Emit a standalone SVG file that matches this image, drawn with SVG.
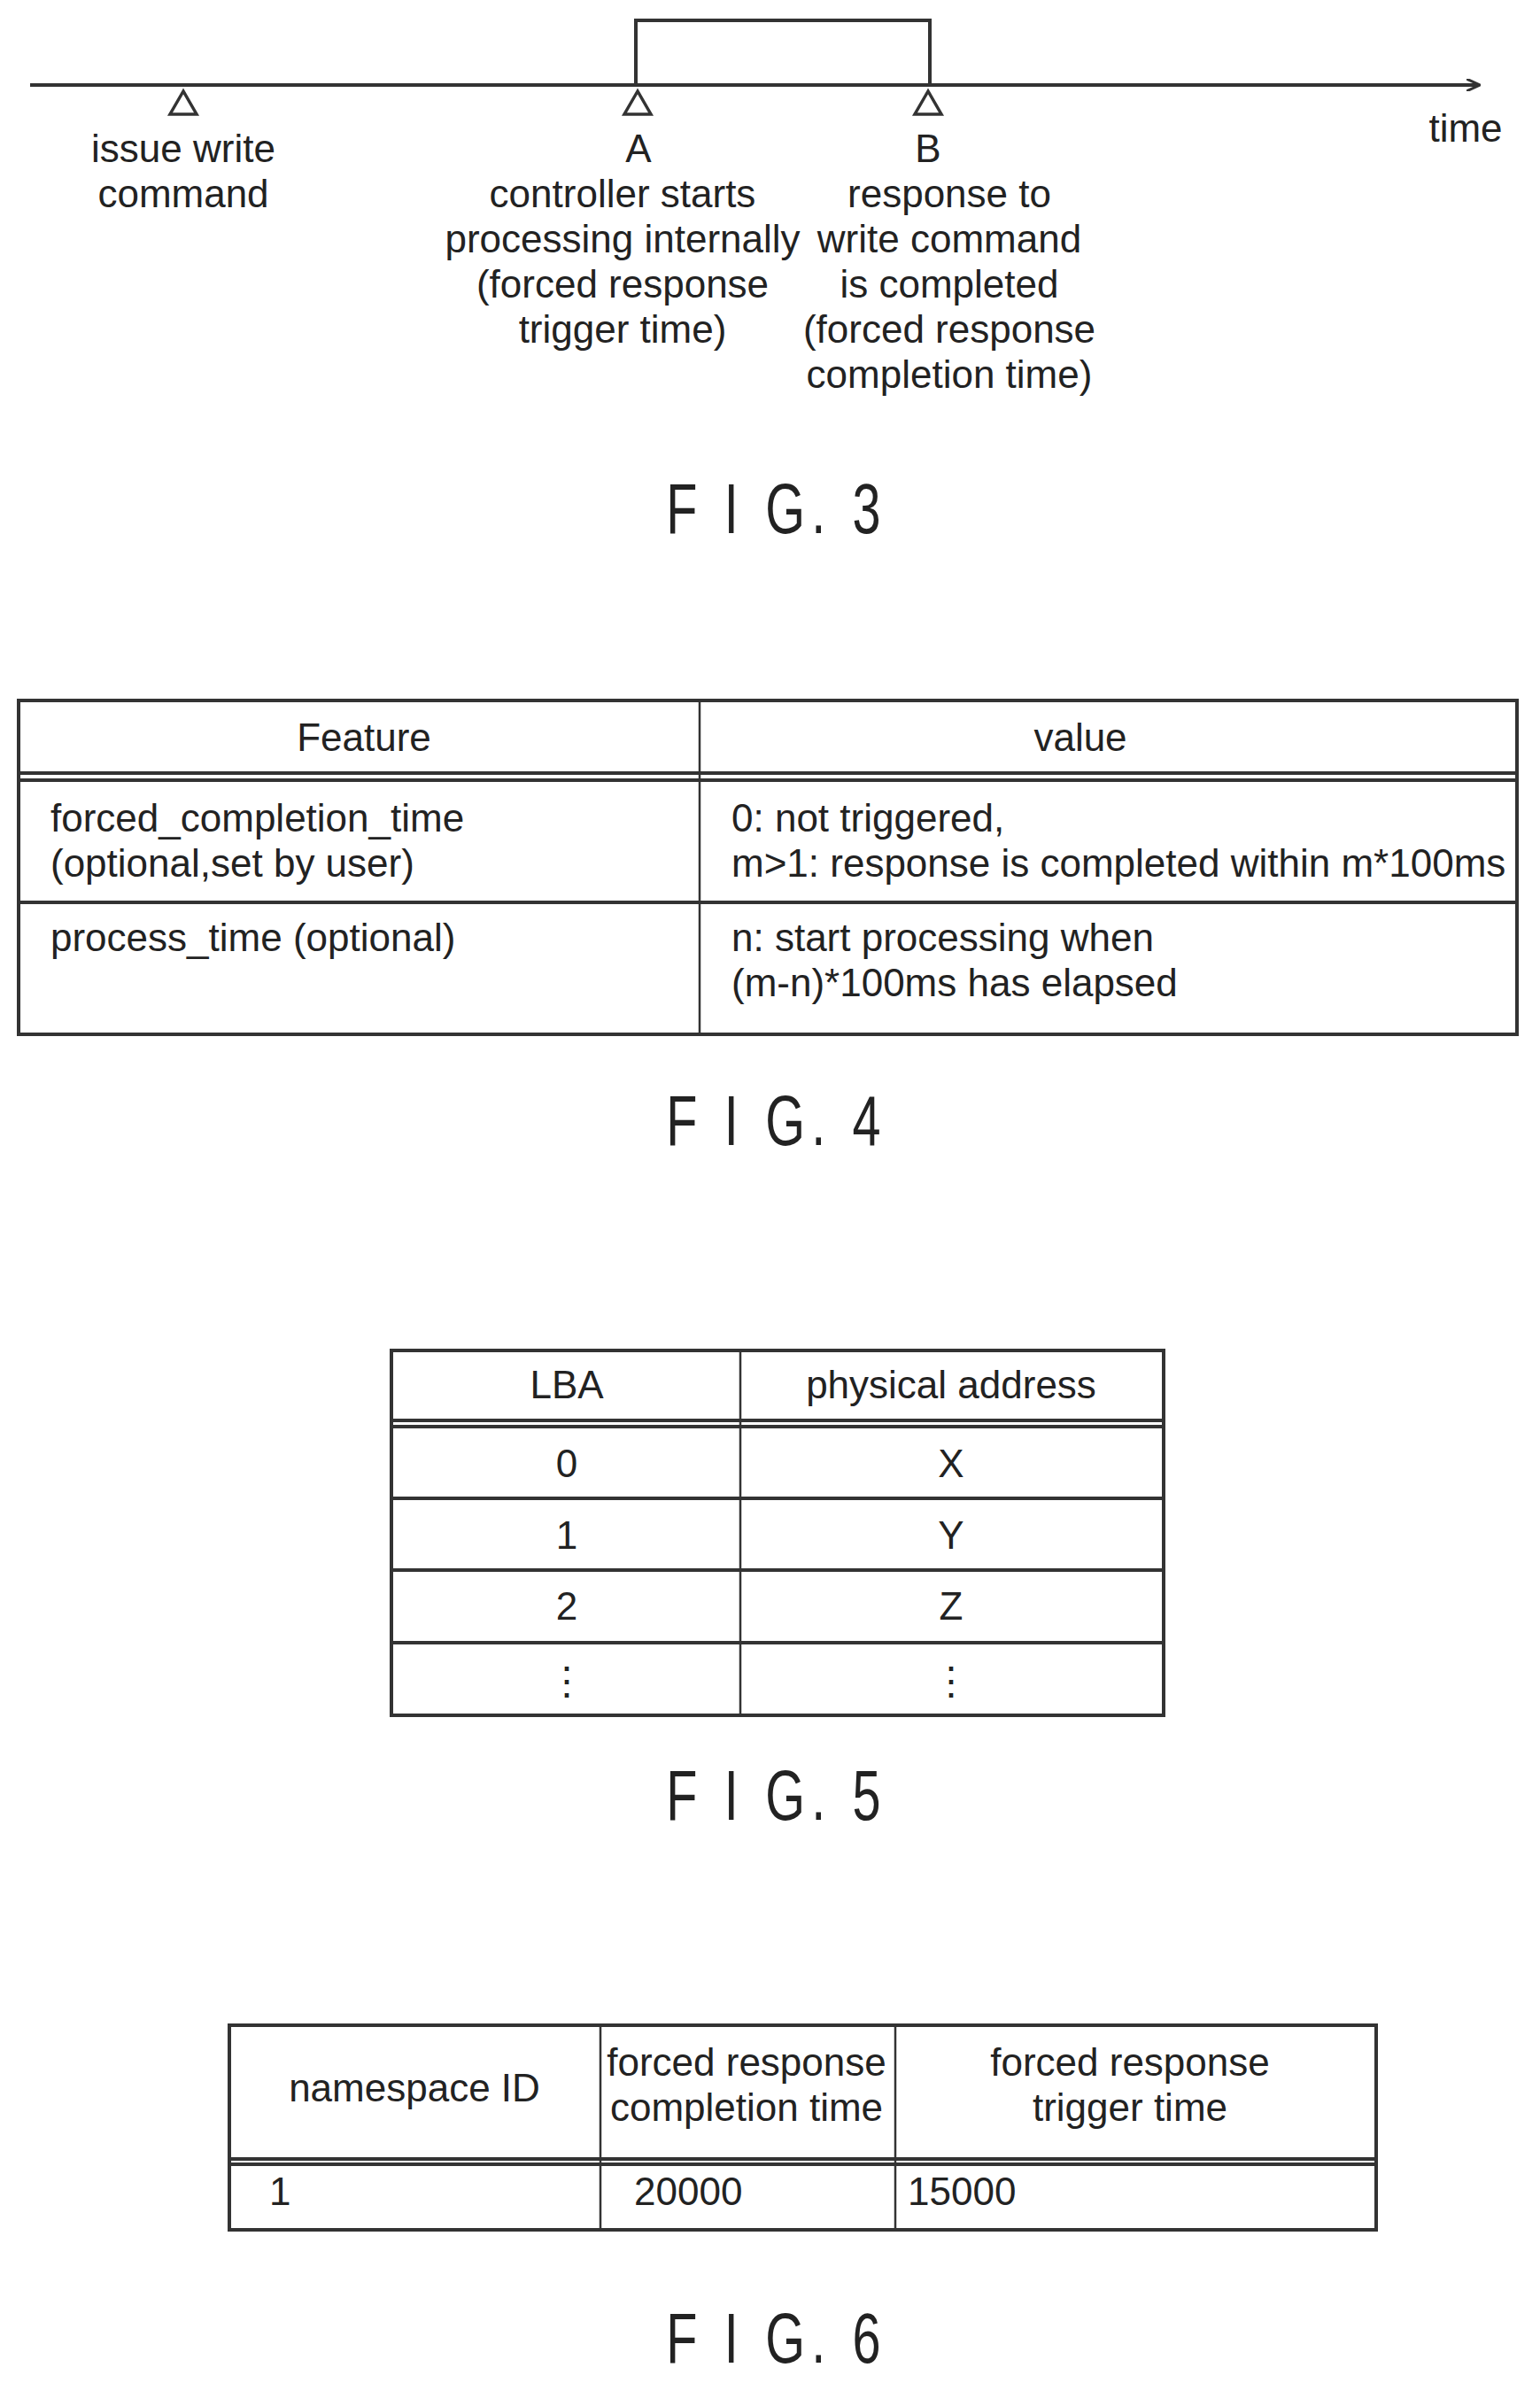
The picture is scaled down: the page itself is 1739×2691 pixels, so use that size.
<svg xmlns="http://www.w3.org/2000/svg" width="1739" height="2691" viewBox="0 0 1739 2691">
<style>
text{font-family:"Liberation Sans Narrow","Liberation Sans",Arial,sans-serif;font-size:44px;fill:#222}
.c{text-anchor:middle}
.fig{font-size:80px;letter-spacing:10px;text-anchor:middle}
.ln{stroke:#333;stroke-width:4;fill:none}
.thin{stroke:#333;stroke-width:2.5;fill:none}
.tri{stroke:#333;stroke-width:3.5;fill:#fff}
</style>
<defs><marker id="ah" markerWidth="16" markerHeight="14" refX="14" refY="7" orient="auto" markerUnits="userSpaceOnUse"><path d="M0,0 L15,7 L0,14" fill="none" stroke="#333" stroke-width="3"/></marker></defs>
<g id="fig3">
<g id="connectors"><line class="ln" x1="34" y1="96" x2="1670" y2="96" marker-end="url(#ah)"/></g>
<rect id="box" class="ln" x="718" y="23" width="332" height="73" stroke-width="7"/>
<g id="t1"><polygon class="tri" points="207,103 192,129 222,129"/><text class="c" x="207" y="183">issue write</text><text class="c" x="207" y="234">command</text></g>
<g id="tA"><polygon class="tri" points="720,103 705,129 735,129"/><text class="c" x="721" y="183">A</text><text class="c" x="703" y="234">controller starts</text><text class="c" x="703" y="285">processing internally</text><text class="c" x="703" y="336">(forced response</text><text class="c" x="703" y="387">trigger time)</text></g>
<g id="tB"><polygon class="tri" points="1048,103 1033,129 1063,129"/><text class="c" x="1048" y="183">B</text><text class="c" x="1072" y="234">response to</text><text class="c" x="1072" y="285">write command</text><text class="c" x="1072" y="336">is completed</text><text class="c" x="1072" y="387">(forced response</text><text class="c" x="1072" y="438">completion time)</text></g>
<text class="c" x="1655" y="160">time</text>
<text class="fig" transform="translate(877,602) scale(0.72,1)">F I G. 3</text>
</g>
<g id="fig4">
<rect class="ln" x="21" y="791" width="1692" height="377"/>
<line class="thin" x1="790" y1="791" x2="790" y2="1168"/>
<line class="ln" x1="21" y1="873" x2="1713" y2="873"/><line class="ln" x1="21" y1="881" x2="1713" y2="881"/>
<line class="ln" x1="21" y1="1019" x2="1713" y2="1019"/>
<text class="c" x="411" y="848">Feature</text><text class="c" x="1220" y="848">value</text>
<text x="57" y="939">forced_completion_time</text><text x="57" y="990">(optional,set by user)</text>
<text x="826" y="939">0: not triggered,</text><text x="826" y="990">m&gt;1: response is completed within m*100ms</text>
<text x="57" y="1074">process_time (optional)</text>
<text x="826" y="1074">n: start processing when</text><text x="826" y="1125">(m-n)*100ms has elapsed</text>
<text class="fig" transform="translate(877,1293) scale(0.72,1)">F I G. 4</text>
</g>
<g id="fig5">
<rect class="ln" x="442" y="1525" width="872" height="412"/>
<line class="thin" x1="836" y1="1525" x2="836" y2="1937"/>
<line class="ln" x1="442" y1="1604" x2="1314" y2="1604"/><line class="ln" x1="442" y1="1611" x2="1314" y2="1611"/>
<line class="ln" x1="442" y1="1692" x2="1314" y2="1692"/>
<line class="ln" x1="442" y1="1773" x2="1314" y2="1773"/>
<line class="ln" x1="442" y1="1855" x2="1314" y2="1855"/>
<text class="c" x="640" y="1579">LBA</text><text class="c" x="1074" y="1579">physical address</text>
<text class="c" x="640" y="1668">0</text><text class="c" x="1074" y="1668">X</text>
<text class="c" x="640" y="1749">1</text><text class="c" x="1074" y="1749">Y</text>
<text class="c" x="640" y="1829">2</text><text class="c" x="1074" y="1829">Z</text>
<text class="c" x="640" y="1913">⋮</text><text class="c" x="1074" y="1913">⋮</text>
<text class="fig" transform="translate(877,2055) scale(0.72,1)">F I G. 5</text>
</g>
<g id="fig6">
<rect class="ln" x="259" y="2287" width="1295" height="231"/>
<line class="thin" x1="678" y1="2287" x2="678" y2="2518"/>
<line class="thin" x1="1011" y1="2287" x2="1011" y2="2518"/>
<line class="ln" x1="259" y1="2438" x2="1554" y2="2438"/><line class="ln" x1="259" y1="2444" x2="1554" y2="2444"/>
<text class="c" x="468" y="2373">namespace ID</text>
<text class="c" x="843" y="2344">forced response</text><text class="c" x="843" y="2395">completion time</text>
<text class="c" x="1276" y="2344">forced response</text><text class="c" x="1276" y="2395">trigger time</text>
<text x="304" y="2490">1</text><text x="716" y="2490">20000</text><text x="1025" y="2490">15000</text>
<text class="fig" transform="translate(877,2668) scale(0.72,1)">F I G. 6</text>
</g>
</svg>
